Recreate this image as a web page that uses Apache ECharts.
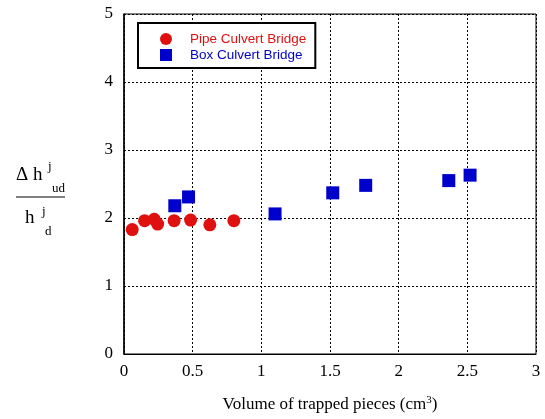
<!DOCTYPE html>
<html>
<head>
<meta charset="utf-8">
<script src="https://cdn.jsdelivr.net/npm/echarts@6/dist/echarts.min.js"></script>
<style>
  html, body { margin: 0; padding: 0; background: #fff; }
  #chart { width: 545px; height: 419px; }
</style>
</head>
<body>
<div id="chart"></div>
<script>
// volume of trapped pieces (cm^3) vs normalised head rise
const pipeVolume = [0.06, 0.15, 0.22, 0.245, 0.365, 0.485, 0.625, 0.80];
const pipeRatio  = [1.83, 1.96, 1.98, 1.91, 1.96, 1.97, 1.90, 1.96];

const boxVolume = [0.37, 0.47, 1.10, 1.52, 1.76, 2.365, 2.52];
const boxRatio  = [2.18, 2.31, 2.06, 2.37, 2.48, 2.55, 2.63];

const seriesNames = ['Pipe Culvert Bridge', 'Box Culvert Bridge'];
const xTicks = [0, 0.5, 1, 1.5, 2, 2.5, 3];
const yTicks = [0, 1, 2, 3, 4, 5];

const RED = '#e01010';
const BLUE = '#0000cc';
const serif = '"Liberation Serif", "Times New Roman", serif';
const sans = '"Liberation Sans", Arial, sans-serif';

const chart = echarts.init(document.getElementById('chart'), null, {renderer: 'canvas'});

const pairs = (xs, ys) => xs.map((x, i) => [x, ys[i]]);
const gridDash = {type: [2, 2], color: '#000', width: 1};

chart.setOption({
    animation: false,
    backgroundColor: '#fff',
    grid: {
        left: 124, top: 14, right: 9, bottom: 65,
        show: true, borderColor: '#000', borderWidth: 1
    },
    legend: {
        orient: 'vertical',
        left: 138, top: 23,
        padding: [9, 9, 6, 22],
        borderColor: '#000', borderWidth: 2,
        backgroundColor: '#fff',
        itemWidth: 12, itemHeight: 12, itemGap: 2,
        textStyle: {fontFamily: sans, fontSize: 13.5, lineHeight: 14, padding: [0, 0, 0, 13]},
        data: [
            {name: seriesNames[0], icon: 'circle', textStyle: {color: RED}},
            {name: seriesNames[1], icon: 'rect', textStyle: {color: BLUE}}
        ]
    },
    xAxis: {
        type: 'value',
        min: xTicks[0], max: xTicks[xTicks.length - 1], interval: 0.5,
        axisLine: {show: true, lineStyle: {color: '#000', width: 1}},
        axisTick: {show: false},
        axisLabel: {color: '#000', fontFamily: serif, fontSize: 17, margin: 9},
        splitLine: {show: true, lineStyle: gridDash},
        name: 'Volume of trapped pieces (cm{sup|3})',
        nameLocation: 'middle',
        nameGap: 41,
        nameTextStyle: {
            color: '#000', fontFamily: serif, fontSize: 17,
            rich: {sup: {fontFamily: serif, fontSize: 11, verticalAlign: 'top', padding: [0, 0, 8, 0], color: '#000'}}
        }
    },
    yAxis: {
        type: 'value',
        min: yTicks[0], max: yTicks[yTicks.length - 1], interval: 1,
        axisLine: {show: true, lineStyle: {color: '#000', width: 1.5}},
        axisTick: {show: false},
        axisLabel: {color: '#000', fontFamily: serif, fontSize: 17, margin: 11},
        splitLine: {show: true, lineStyle: gridDash}
    },
    series: [
        {
            name: seriesNames[0], type: 'scatter',
            symbol: 'circle', symbolSize: 13,
            itemStyle: {color: RED, opacity: 1},
            data: pairs(pipeVolume, pipeRatio), z: 3
        },
        {
            name: seriesNames[1], type: 'scatter',
            symbol: 'rect', symbolSize: 13,
            itemStyle: {color: BLUE, opacity: 1},
            data: pairs(boxVolume, boxRatio), z: 4
        }
    ],
    graphic: [
        // y axis title: Δh^j_ud / h^j_d
        {type: 'text', left: 16, top: 166, style: {text: 'Δ h', font: '19px ' + serif, fill: '#000'}},
        {type: 'text', left: 48, top: 160, style: {text: 'j', font: '13px ' + serif, fill: '#000'}},
        {type: 'text', left: 52, top: 182, style: {text: 'ud', font: '13px ' + serif, fill: '#000'}},
        {type: 'line', shape: {x1: 16, y1: 197, x2: 65, y2: 197}, style: {stroke: '#000', lineWidth: 1}},
        {type: 'text', left: 25, top: 209, style: {text: 'h', font: '19px ' + serif, fill: '#000'}},
        {type: 'text', left: 42, top: 205, style: {text: 'j', font: '13px ' + serif, fill: '#000'}},
        {type: 'text', left: 45, top: 225, style: {text: 'd', font: '13px ' + serif, fill: '#000'}}
    ]
});
</script>
</body>
</html>
